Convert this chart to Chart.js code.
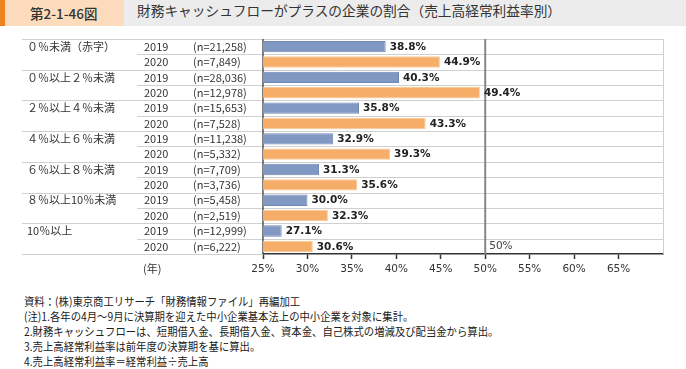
<!DOCTYPE html>
<html lang="ja">
<head>
<meta charset="utf-8">
<script src="https://cdn.jsdelivr.net/npm/chart.js@4/dist/chart.umd.min.js"></script>
<style>
  html, body { margin: 0; padding: 0; background: #ffffff; }
  body { width: 686px; height: 369px; position: relative; overflow: hidden; }
  #titlebar { position: absolute; left: 0; top: 0; width: 686px; height: 26px; background: #ececec; }
  #stripe { position: absolute; left: 0; top: 0; width: 5px; height: 26px; background: #ee8220; }
  #figno { position: absolute; left: 5px; top: 0; width: 119px; height: 26px; background: #fcdcbd;
           font: 500 13.5px "Noto Sans CJK JP", sans-serif; color: #333; line-height: 26px; text-indent: 25px; white-space: nowrap; }
  #title { position: absolute; left: 137px; top: 0; height: 26px; line-height: 26px;
           font: 13.7px "Noto Sans CJK JP", sans-serif; color: #333; white-space: nowrap; }
  #wrap { position: absolute; left: 0; top: 0; width: 686px; height: 290px; }
  #notes { position: absolute; left: 24px; top: 294px; font: 11.5px "Noto Sans CJK JP", sans-serif;
           line-height: 15px; color: #222; white-space: nowrap; transform: scaleX(0.9); transform-origin: 0 0; }
</style>
</head>
<body>
<div id="wrap"><canvas id="c"></canvas></div>
<div id="titlebar"><div id="stripe"></div><div id="figno">第2-1-46図</div><div id="title">財務キャッシュフローがプラスの企業の割合（売上高経常利益率別）</div></div>
<div id="notes">
  <div>資料：(株)東京商工リサーチ「財務情報ファイル」再編加工</div>
  <div>(注)1.各年の4月～9月に決算期を迎えた中小企業基本法上の中小企業を対象に集計。</div>
  <div>2.財務キャッシュフローは、短期借入金、長期借入金、資本金、自己株式の増減及び配当金から算出。</div>
  <div>3.売上高経常利益率は前年度の決算期を基に算出。</div>
  <div>4.売上高経常利益率＝経常利益÷売上高</div>
</div>
<script>
// ---- data ----
const categories = ['０％未満（赤字）', '０％以上２％未満', '２％以上４％未満', '４％以上６％未満', '６％以上８％未満', '８％以上10％未満', '10％以上'];
const years = ['2019', '2020'];
const share2019 = [38.8, 40.3, 35.8, 32.9, 31.3, 30.0, 27.1];
const share2020 = [44.9, 49.4, 43.3, 39.3, 35.6, 32.3, 30.6];
const n2019 = ['21,258', '28,036', '15,653', '11,238', '7,709', '5,458', '12,999'];
const n2020 = ['7,849', '12,978', '7,528', '5,332', '3,736', '2,519', '6,222'];
const xMin = 25, xMax = 70, xStep = 5;
const refLine = 50;

// ---- build rows ----
const rows = [];
categories.forEach((c, i) => {
  rows.push({ cat: c, year: years[0], n: n2019[i], v: share2019[i], k: 0 });
  rows.push({ cat: '', year: years[1], n: n2020[i], v: share2020[i], k: 1 });
});
const blueFill = '#8098c2', blueEdge = '#6f87b3';
const orangeFill = '#f5ad68', orangeEdge = '#f8c897';

const FONT_JP = '"Noto Sans CJK JP", sans-serif';
const FONT_NUM = '"DejaVu Sans", Verdana, sans-serif';

const tablePlugin = {
  id: 'table',
  beforeDatasetsDraw(chart) {
    const ctx = chart.ctx, ca = chart.chartArea;
    const ys = chart.scales.y, xs = chart.scales.x;
    const step = ys.getPixelForValue(1) - ys.getPixelForValue(0);
    ctx.save();
    ctx.lineWidth = 1;
    ctx.strokeStyle = '#cfcfcf';
    for (let k = 0; k <= rows.length; k++) {
      const y = Math.round(ys.getPixelForValue(0) - step / 2 + k * step) + 0.5;
      const startX = (k % 2 === 0) ? 22 : 137;
      const endX = (k === rows.length) ? xs.left : ca.right;
      ctx.beginPath(); ctx.moveTo(startX, y); ctx.lineTo(endX, y); ctx.stroke();
    }
    // right border
    ctx.beginPath(); ctx.moveTo(ca.right + 0.5, ca.top); ctx.lineTo(ca.right + 0.5, ca.bottom); ctx.stroke();
    // 50% reference line
    const x50 = xs.getPixelForValue(refLine);
    ctx.strokeStyle = '#8a8680'; ctx.lineWidth = 2;
    ctx.beginPath(); ctx.moveTo(x50, ca.top); ctx.lineTo(x50, ca.bottom); ctx.stroke();
    // y axis line
    ctx.strokeStyle = '#555'; ctx.lineWidth = 1.5;
    ctx.beginPath(); ctx.moveTo(ca.left, ca.top); ctx.lineTo(ca.left, ca.bottom); ctx.stroke();
    ctx.restore();
  },
  afterDatasetsDraw(chart) {
    const ctx = chart.ctx, ca = chart.chartArea;
    const ys = chart.scales.y, xs = chart.scales.x;
    ctx.save();
    ctx.textBaseline = 'middle';
    rows.forEach((r, i) => {
      const y = ys.getPixelForValue(i);
      ctx.fillStyle = '#333';
      ctx.font = '11px ' + FONT_JP;
      ctx.textAlign = 'left';
      if (r.cat) ctx.fillText(r.cat, 27, y);
      ctx.fillText(r.year, 144, y);
      ctx.fillText('(n=' + r.n + ')', 193, y);
      ctx.font = 'bold 10.5px ' + FONT_NUM;
      ctx.fillStyle = '#222';
      ctx.fillText(r.v.toFixed(1) + '%', xs.getPixelForValue(r.v) + 4, y + 0.5);
    });
    // 50% label in last row
    ctx.font = '10.5px ' + FONT_NUM;
    ctx.fillStyle = '#444';
    ctx.fillText(refLine + '%', xs.getPixelForValue(refLine) + 4, ys.getPixelForValue(rows.length - 1));
    // (年)
    ctx.font = '11px ' + FONT_JP;
    ctx.fillStyle = '#333';
    ctx.fillText('(年)', 143, ca.bottom + 15);
    ctx.restore();
  }
};

new Chart(document.getElementById('c'), {
  type: 'bar',
  data: {
    labels: rows.map((r, i) => r.year + '_' + i),
    datasets: [{
      data: rows.map(r => r.v),
      backgroundColor: rows.map(r => r.k === 0 ? blueFill : orangeFill),
      borderColor: rows.map(r => r.k === 0 ? blueEdge : orangeEdge),
      borderWidth: 1,
      borderSkipped: 'left',
      barPercentage: 0.74,
      categoryPercentage: 1.0
    }]
  },
  options: {
    indexAxis: 'y',
    responsive: true,
    maintainAspectRatio: false,
    animation: false,
    events: [],
    layout: { padding: { left: 263, right: 23, top: 39, bottom: 10 } },
    plugins: { legend: { display: false }, tooltip: { enabled: false } },
    scales: {
      y: { display: false },
      x: {
        min: xMin, max: xMax,
        afterFit(s) { s.height = 26; },
        ticks: {
          stepSize: xStep, padding: 4,
          color: '#333',
          font: { family: FONT_NUM, size: 10.5 },
          callback: v => (v === xMax ? '' : v + '%'),
          maxRotation: 0
        },
        grid: {
          drawOnChartArea: false, drawTicks: true, tickLength: 5,
          tickColor: c => (c.tick && c.tick.value === xMax ? 'rgba(0,0,0,0)' : '#333'),
          tickWidth: 1.5
        },
        border: { color: '#333', width: 1.5 }
      }
    }
  },
  plugins: [tablePlugin]
});
</script>
</body>
</html>
